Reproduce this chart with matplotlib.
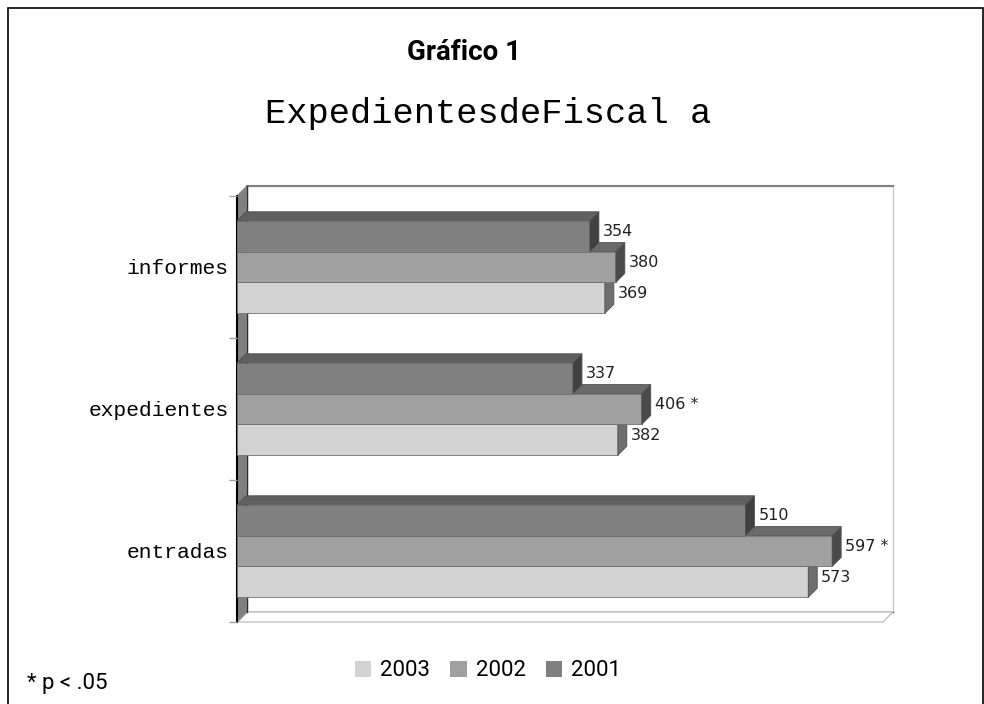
import matplotlib.pyplot as plt
import numpy as np
from matplotlib.patches import Polygon, Rectangle

categories = ["entradas", "expedientes", "informes"]
years = ["2003", "2002", "2001"]
v2003 = [573, 382, 369]
v2002 = [597, 406, 380]
v2001 = [510, 337, 354]
stars2002 = ["*", "*", ""]

front = {"2003": "#d3d3d3", "2002": "#a0a0a0", "2001": "#808080"}
side = {"2003": "#6e6e6e", "2002": "#4a4a4a", "2001": "#404040"}
top = {"2003": "#a8a8a8", "2002": "#6a6a6a", "2001": "#606060"}

W, H = 984, 704
fig = plt.figure(figsize=(W / 100, H / 100), dpi=100)

# outer frame
fig.patches.append(Rectangle((8 / W, -0.01), (983 - 8) / W, 1 - 8 / H + 0.01,
                             transform=fig.transFigure, fill=False,
                             edgecolor="black", lw=1.2))

x0, x1, yb, yt = 237, 883, 622, 196
ax = fig.add_axes([x0 / W, 1 - yb / H, (x1 - x0) / W, (yb - yt) / H])
xmax = 648
ax.set_xlim(0, xmax)
ax.set_ylim(-0.5, 2.5)
for s in ax.spines.values():
    s.set_visible(False)
ax.patch.set_visible(False)

# pixel -> data
px_x = xmax / (x1 - x0)
px_y = 3.0 / (yb - yt)
wd_x, wd_y = 10 * px_x, 10 * px_y   # wall depth
bd_x, bd_y = 9 * px_x, 9 * px_y     # bar depth

# back wall
ax.add_patch(Polygon([(wd_x, -0.5 + wd_y), (xmax + wd_x, -0.5 + wd_y),
                      (xmax + wd_x, 2.5 + wd_y), (wd_x, 2.5 + wd_y)],
                     closed=True, facecolor="white", edgecolor="#c8c8c8",
                     lw=1, clip_on=False, zorder=0))
ax.plot([wd_x, xmax + wd_x], [2.5 + wd_y, 2.5 + wd_y], color="#808080",
        lw=1.5, clip_on=False, zorder=0.5)
ax.plot([wd_x, xmax + wd_x], [-0.5 + wd_y, -0.5 + wd_y], color="#404040",
        lw=1, clip_on=False, zorder=0.5)
# floor
ax.add_patch(Polygon([(0, -0.5), (xmax, -0.5), (xmax + wd_x, -0.5 + wd_y),
                      (wd_x, -0.5 + wd_y)], closed=True, facecolor="white",
                     edgecolor="#c0c0c0", lw=1, clip_on=False, zorder=0.6))
# left wall
ax.add_patch(Polygon([(0, -0.5), (wd_x, -0.5 + wd_y), (wd_x, 2.5 + wd_y),
                      (0, 2.5)], closed=True, facecolor="#808080",
                     edgecolor="#909090", lw=1, clip_on=False, zorder=0.7))
ax.plot([wd_x, wd_x], [-0.5 + wd_y, 2.5 + wd_y], color="#303030", lw=1,
        clip_on=False, zorder=0.75)
ax.plot([0, 0], [-0.5, 2.5], color="black", lw=1.5, clip_on=False, zorder=0.8)

bh = 0.217
series = [("2003", v2003, -bh), ("2002", v2002, 0.0), ("2001", v2001, bh)]
ypos = np.arange(len(categories))

z = 1
for i, c in enumerate(categories):
    for yr, vals, off in series:
        v = vals[i]
        yc = ypos[i] + off
        lo, hi = yc - bh / 2, yc + bh / 2
        ax.barh(yc, v, height=bh, color=front[yr], edgecolor="#707070",
                lw=0.6, zorder=z)
        ax.add_patch(Polygon([(v, lo), (v + bd_x, lo + bd_y), (v + bd_x, hi + bd_y),
                              (v, hi)], closed=True, facecolor=side[yr],
                             edgecolor="#505050", lw=0.6, zorder=z, clip_on=False))
        ax.add_patch(Polygon([(0, hi), (bd_x, hi + bd_y), (v + bd_x, hi + bd_y),
                              (v, hi)], closed=True, facecolor=top[yr],
                             edgecolor="#505050", lw=0.6, zorder=z, clip_on=False))
        z += 1
        lab = str(v)
        if yr == "2002" and stars2002[i]:
            lab += " " + stars2002[i]
        ax.text(v + bd_x + 4 * px_x, yc + bd_y / 2, lab, fontsize=11.5,
                family="DejaVu Sans", color="#202020", va="center", ha="left",
                zorder=50)

ax.set_xticks([])
ax.set_yticks(ypos)
ax.set_yticklabels(categories, family="Liberation Mono", fontsize=15.3)
ax.tick_params(axis="y", which="major", length=0, pad=6)
ax.set_yticks([-0.5, 0.5, 1.5, 2.5], minor=True)
ax.tick_params(axis="y", which="minor", length=6, color="#a0a0a0", width=1)

narrow = ["Liberation Sans Narrow", "Roboto", "DejaVu Sans"]
fig.text(464 / W, 1 - 52 / H, "Gráfico 1", family=narrow, fontweight="bold",
         fontsize=20, ha="center", va="center")
fig.text(488 / W, 1 - 113 / H, "ExpedientesdeFiscal a", family="Liberation Mono",
         fontsize=25.5, ha="center", va="center")
fig.text(27 / W, 1 - 684 / H, "* p < .05", family=narrow, fontsize=16,
         ha="left", va="center")

handles = [Rectangle((0, 0), 1, 1, facecolor=front[y], edgecolor="none") for y in years]
fig.legend(handles, years, loc="center", bbox_to_anchor=(488 / W, 1 - 671 / H),
           ncol=3, frameon=False, prop={"family": narrow, "size": 16},
           handlelength=0.75, handleheight=0.75, handletextpad=0.4,
           columnspacing=0.9)

fig.savefig("out.png", dpi=100)
